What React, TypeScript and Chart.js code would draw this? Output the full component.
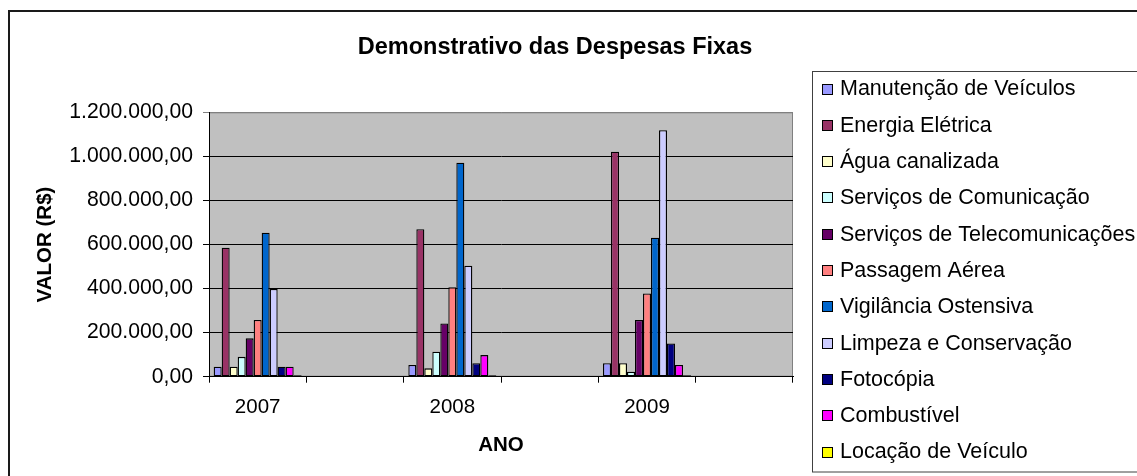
import React, { useEffect, useRef } from "react";
import { Chart, registerables } from "chart.js";

Chart.register(...registerables);

const TITLE = "Demonstrativo das Despesas Fixas";
const X_TITLE = "ANO";
const Y_TITLE = "VALOR (R$)";
const YEARS = ["2007", "2008", "2009"];

const SERIES_NAMES = [
  "Manutenção de Veículos",
  "Energia Elétrica",
  "Água canalizada",
  "Serviços de Comunicação",
  "Serviços de Telecomunicações",
  "Passagem Aérea",
  "Vigilância Ostensiva",
  "Limpeza e Conservação",
  "Fotocópia",
  "Combustível",
  "Locação de Veículo",
];

const SERIES_COLORS = [
  "#9999FF",
  "#993366",
  "#FFFFCC",
  "#CCFFFF",
  "#660066",
  "#FF8080",
  "#0066CC",
  "#CCCCFF",
  "#000080",
  "#FF00FF",
  "#FFFF00",
];

const manutencao = [45000, 53000, 61000];
const energia = [585000, 669000, 1021000];
const agua = [45000, 38000, 61000];
const comunicacao = [90000, 113000, 23000];
const telecom = [174000, 242000, 257000];
const passagem = [257000, 406000, 378000];
const vigilancia = [653000, 971000, 631000];
const limpeza = [398000, 504000, 1119000];
const fotocopia = [45000, 61000, 151000];
const combustivel = [45000, 98000, 53000];
const locacao = [7000, 7000, 7000];

const SERIES_VALUES = [
  manutencao, energia, agua, comunicacao, telecom, passagem,
  vigilancia, limpeza, fotocopia, combustivel, locacao,
];

const Y_MIN = 0;
const Y_MAX = 1200000;
const Y_STEP = 200000;

const FONT = 'Arial, "Liberation Sans", sans-serif';

// Excel layout: each year is followed by an empty category slot
const LABELS: string[] = [];
YEARS.forEach((y) => { LABELS.push(y); LABELS.push(""); });

function spread(vals: number[]) {
  const out: (number | null)[] = [];
  vals.forEach((v) => { out.push(v); out.push(null); });
  return out;
}

function fmt(v: number) {
  const s = Math.round(v).toString().replace(/\B(?=(\d{3})+(?!\d))/g, ".");
  return s + ",00";
}

const decorPlugin = {
  id: "decor",
  beforeDraw(chart: any) {
    const { ctx, chartArea } = chart;
    ctx.save();
    ctx.fillStyle = "#C0C0C0";
    ctx.fillRect(chartArea.left, chartArea.top, chartArea.right - chartArea.left, chartArea.bottom - chartArea.top);
    ctx.strokeStyle = "#808080";
    ctx.lineWidth = 1;
    ctx.strokeRect(chartArea.left + 0.5, chartArea.top + 0.5, chartArea.right - chartArea.left - 1, chartArea.bottom - chartArea.top - 1);
    ctx.restore();
  },
  afterDraw(chart: any) {
    const { ctx } = chart;
    ctx.save();
    // title
    ctx.fillStyle = "#000";
    ctx.font = `bold 23.5px ${FONT}`;
    ctx.textAlign = "center";
    ctx.textBaseline = "middle";
    ctx.fillText(TITLE, 545, 36);
    // legend box
    const lx = 802, ly = 59, lw = 400, lh = 400.5;
    ctx.fillStyle = "#fff";
    ctx.fillRect(lx, ly, lw, lh);
    ctx.strokeStyle = "#404040";
    ctx.lineWidth = 1;
    ctx.strokeRect(lx + 0.5, ly + 0.5, lw, lh);
    ctx.font = `21.5px ${FONT}`;
    ctx.textAlign = "left";
    chart.data.datasets.forEach((ds: any, i: number) => {
      const cy = 76.5 + i * 36.3;
      const by = Math.round(cy - 5) + 0.5;
      ctx.fillStyle = ds.backgroundColor;
      ctx.fillRect(812.5, by, 10, 10);
      ctx.strokeStyle = "#000";
      ctx.strokeRect(812.5, by, 10, 10);
      ctx.fillStyle = "#000";
      ctx.fillText(ds.label, 830, cy + 1);
    });
    ctx.restore();
  },
};

export default function App() {
  const ref = useRef<HTMLCanvasElement>(null);
  useEffect(() => {
    if (!ref.current) return;
    const chart = new Chart(ref.current, {
      type: "bar",
      data: {
        labels: LABELS,
        datasets: SERIES_NAMES.map((name, i) => ({
          label: name,
          data: spread(SERIES_VALUES[i]),
          backgroundColor: SERIES_COLORS[i],
          borderColor: "#000",
          borderWidth: 1.3,
          borderSkipped: false,
          categoryPercentage: 0.904,
          barPercentage: 1,
          skipNull: true,
        })) as any,
      },
      options: {
        animation: false,
        responsive: true,
        maintainAspectRatio: false,
        layout: { padding: { left: 0, top: 100.3, right: 357, bottom: 0 } },
        plugins: {
          legend: { display: false },
          title: { display: false },
          tooltip: { enabled: false },
        },
        scales: {
          x: {
            grid: {
              offset: true,
              drawOnChartArea: false,
              drawTicks: true,
              tickLength: 6,
              color: "#000",
            },
            border: { display: true, color: "#000" },
            ticks: {
              autoSkip: false,
              maxRotation: 0,
              minRotation: 0,
              padding: 12.4,
              color: "#000",
              font: { family: FONT, size: 20.5 },
            },
            title: {
              display: true,
              text: X_TITLE,
              color: "#000",
              font: { family: FONT, size: 20.5, weight: "bold" },
              padding: { top: 0, bottom: 18.7 },
            },
            afterFit: (s: any) => { s.height = 464 - 364.7; },
          },
          y: {
            min: Y_MIN,
            max: Y_MAX,
            grid: {
              drawTicks: true,
              tickLength: 6,
              color: (c: any) => (c.tick && c.tick.value === Y_MAX ? "#808080" : "#000"),
            },
            border: { display: true, color: "#000" },
            ticks: {
              stepSize: Y_STEP,
              padding: 10,
              color: "#000",
              font: { family: FONT, size: 21.2 },
              callback: (v: any) => fmt(Number(v)),
            },
            title: {
              display: true,
              text: Y_TITLE,
              color: "#000",
              font: { family: FONT, size: 20.5, weight: "bold" },
              padding: { top: 22.7, bottom: 0 },
            },
            afterFit: (s: any) => { s.width = 199; },
          },
        },
      },
      plugins: [decorPlugin],
    });
    return () => chart.destroy();
  }, []);

  return (
    <div style={{ position: "fixed", left: 0, top: 0, width: 1137, height: 476, overflow: "hidden", background: "#fff" }}>
      <div style={{ position: "absolute", left: 8, top: 10, width: 1300, height: 600, border: "2px solid #1a1a1a" }} />
      <div style={{ position: "absolute", left: 10, top: 12, width: 1140, height: 464 }}>
        <canvas ref={ref} />
      </div>
    </div>
  );
}
